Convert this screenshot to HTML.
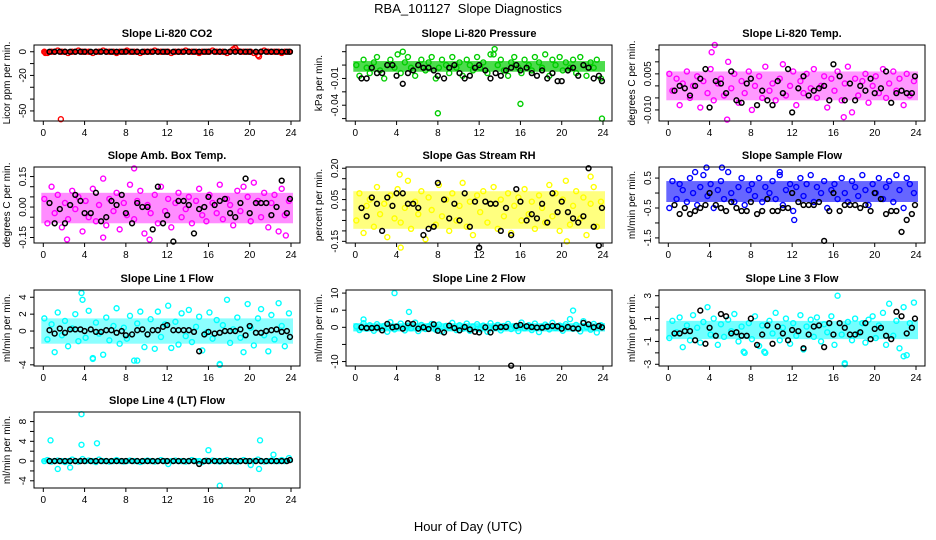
<!DOCTYPE html>
<html><head><meta charset="utf-8"><style>
html,body{margin:0;padding:0;background:#fff;}
svg{display:block;font-family:"Liberation Sans",Arial,sans-serif;}
</style></head><body>
<svg id="chart" width="936" height="540" viewBox="0 0 936 540">
<text x="468" y="13" text-anchor="middle" font-size="13">RBA_101127&#160; Slope Diagnostics</text>
<text x="468" y="531" text-anchor="middle" font-size="13">Hour of Day (UTC)</text>
</svg>
<script>
// shared x categories (hour of day)
const colHours = [0.1,0.4,0.8,1.1,1.4,1.8,2.1,2.4,2.8,3.1,3.4,3.8,4.1,4.4,4.8,5.1,5.4,5.8,6.1,6.4,6.8,7.1,7.4,7.8,
 8.1,8.4,8.8,9.1,9.4,9.8,10.1,10.4,10.8,11.1,11.4,11.8,12.1,12.4,12.8,13.1,13.4,13.8,14.1,14.4,14.8,15.1,15.4,15.8,
 16.1,16.4,16.8,17.1,17.4,17.8,18.1,18.4,18.8,19.1,19.4,19.8,20.1,20.4,20.8,21.1,21.4,21.8,22.1,22.4,22.8,23.1,23.4,23.8];
const blkHours = [0.6,1.1,1.6,2.1,2.6,3.1,3.6,4.0,4.6,5.1,5.6,6.1,6.6,7.1,7.6,8.0,8.6,9.1,9.6,10.1,10.6,11.1,11.6,12.0,
 12.6,13.1,13.6,14.1,14.6,15.1,15.6,16.0,16.6,17.1,17.6,18.1,18.6,19.1,19.6,20.0,20.6,21.1,21.6,22.1,22.6,23.1,23.6,23.9];
const xTicks = [0,4,8,12,16,20,24];

// Panel 1: CO2
const co2Col = [0,-1,0,0,1,0,0,-1,0,0,1,0, 0,0,-1,0,0,1,0,0,0,-1,0,0, 1,0,0,0,-1,0,0,0,1,0,0,0, 0,-1,0,0,0,1,0,0,0,-1,0,0, 0,1,0,0,0,-1,0,2,1,0,0,0, 0,-1,-3,0,1,0,0,0,0,-1,0,0];
const co2Blk = new Array(48).fill(0);
const co2Out = [[1.7,-57],[18.6,3],[20.9,-4],[0.2,-1]];
// Panel 2: Pressure
const presCol = [-0.005,-0.009,-0.003,-0.006,-0.008,-0.004,-0.002,-0.007,-0.010,-0.005,-0.003,-0.006,
 -0.001,-0.008,-0.004,-0.002,-0.006,-0.009,-0.005,-0.003,-0.007,-0.004,-0.002,-0.010,
 -0.006,-0.003,-0.005,-0.008,-0.002,-0.006,-0.004,-0.009,-0.003,-0.005,-0.007,-0.002,
 -0.006,-0.004,-0.008,-0.001,-0.001,-0.005,-0.003,-0.007,-0.009,-0.004,-0.002,-0.006,
 -0.008,-0.003,-0.005,-0.007,-0.002,-0.004,-0.006,-0.001,-0.009,-0.003,-0.005,-0.002,
 -0.007,-0.004,-0.006,-0.003,-0.008,-0.002,-0.005,-0.009,-0.004,-0.006,-0.003,-0.010];
const presBlk = [-0.010,-0.010,-0.006,-0.008,-0.008,-0.005,-0.005,-0.009,-0.012,-0.008,-0.007,-0.005,
 -0.006,-0.006,-0.007,-0.009,-0.010,-0.006,-0.005,-0.008,-0.010,-0.009,-0.006,-0.005,
 -0.007,-0.010,-0.008,-0.009,-0.007,-0.006,-0.005,-0.007,-0.006,-0.008,-0.009,-0.007,
 -0.010,-0.008,-0.011,-0.011,-0.007,-0.006,-0.009,-0.005,-0.006,-0.010,-0.009,-0.011];
const presOut = [[8.0,-0.023],[16.0,-0.0195],[23.9,-0.025],[13.5,0.001],[4.6,0.0]];
// Panel 3: Li-820 Temp
const tempCol = [0.005,-0.002,0.003,-0.008,0.001,0.006,-0.005,0,0.004,-0.009,0.002,-0.003,
 0.007,-0.006,0.001,0.003,-0.004,0.010,-0.001,0.005,-0.007,0.002,-0.003,0.006,
 -0.010,0,0.004,-0.005,0.008,-0.002,0.001,-0.006,0.003,0.009,-0.004,0,
 0.006,-0.008,0.002,-0.003,0.005,-0.001,0.007,-0.005,0,0.004,-0.009,0.003,
 -0.002,0.006,-0.006,0.001,0.008,-0.011,0.003,-0.004,0.002,0.005,-0.007,0,
 0.004,-0.003,0.007,-0.005,0.001,0.006,-0.002,0.003,-0.008,0.005,-0.004,0.002];
const tempBlk = [-0.002,0,-0.001,-0.004,0,0.003,0.007,-0.009,0.002,0.001,-0.003,0.006,
 -0.006,-0.007,0.001,0.003,-0.008,-0.002,-0.006,-0.008,0.002,-0.003,0.007,-0.011,
 -0.001,0.004,-0.004,-0.002,-0.001,0,-0.006,0.009,0.004,-0.006,0.001,-0.006,
 0,-0.002,0.003,-0.003,-0.001,0.006,-0.007,-0.003,-0.002,-0.003,-0.003,0.004];
const tempOut = [[4.5,0.017],[5.7,-0.014],[4.2,0.014],[17.0,-0.013]];
// Panel 4: Amb. Box Temp
const ambCol = [0.04,-0.08,0.10,-0.03,0.06,-0.10,0.02,-0.06,0.08,-0.01,0.05,-0.12,
 0.03,-0.05,0.09,-0.07,0.01,0.14,-0.09,0.04,-0.02,0.07,-0.11,0.02,
 -0.04,0.11,-0.06,0.03,0.08,-0.13,0.01,-0.03,0.06,-0.08,0.10,-0.02,
 0.04,-0.10,0.02,0.07,-0.05,-0.01,0.05,-0.08,0.03,0.09,-0.04,-0.07,
 0.06,0.02,-0.03,0.11,-0.06,0.04,0.01,-0.09,0.08,-0.02,0.10,0.05,
 -0.07,0.12,0.03,-0.05,0.07,-0.10,0.02,0.06,-0.12,0.09,-0.04,0.03];
const ambBlk = [0.02,-0.08,-0.01,-0.08,0.01,0.06,0.03,-0.03,-0.03,0.07,-0.07,-0.05,0.03,0.01,0.06,-0.03,
 -0.08,0.02,0,0.00,-0.11,0.10,-0.08,-0.04,-0.17,0.03,0.03,0.01,-0.13,-0.01,0.00,0.05,0.01,0.03,0.04,-0.03,
 -0.05,0.02,0.14,-0.03,0.02,0.02,0.02,-0.04,0.00,0.13,-0.03,0.04];
const ambOut = [[8.8,0.19],[2.3,-0.16],[5.8,-0.15],[10.3,-0.16],[23.5,-0.14]];
// Panel 5: Gas Stream RH
const rhCol = [-0.05,0.08,-0.11,0.02,0.05,-0.08,0.11,-0.02,0.03,-0.13,0.07,-0.04,
 0.10,-0.06,0.01,0.14,-0.09,0.04,-0.02,0.09,-0.14,0.06,0.00,-0.07,
 0.12,-0.03,0.05,-0.10,0.08,-0.05,0.02,0.13,-0.08,0.04,-0.12,0.07,
 -0.01,0.09,-0.06,0.03,0.11,-0.09,0.05,-0.03,0.08,-0.11,0.02,0.06,
 -0.05,0.10,-0.02,0.04,-0.09,0.07,0.01,-0.06,0.12,-0.03,0.08,-0.10,
 0.05,0.14,-0.07,0.02,0.09,-0.04,0.06,-0.12,0.03,0.11,-0.08,0.04];
const rhBlk = [0.01,-0.03,0.06,0.03,-0.10,0.06,0.02,0.08,0.08,0.03,0.03,0.01,-0.12,-0.09,-0.08,0.13,
 0.05,-0.04,0.03,-0.05,0.08,-0.08,0.04,-0.18,0.04,0.03,0.03,-0.10,0.01,-0.12,0.10,0.04,-0.05,-0.02,-0.04,
 0.03,-0.06,0.08,-0.01,0.04,-0.01,-0.04,-0.06,-0.03,0.20,-0.08,-0.17,0.01];
const rhOut = [[4.4,-0.18],[4.3,0.17],[20.5,-0.15],[22.8,0.16]];
// Panel 6: Sample Flow
const sfCol = [-0.5,0.4,-0.2,0.3,0.1,-0.3,0.5,0.0,-0.4,0.2,0.6,-0.1,
 0.3,-0.5,0.1,0.4,-0.2,0.7,0.0,-0.3,0.2,0.5,-0.4,0.1,
 0.3,-0.1,0.5,-0.3,0.2,0.0,0.4,-0.2,0.6,-0.4,0.1,0.3,
 -0.6,0.2,0.5,-0.1,0.3,0.6,-0.3,0.2,0.0,0.4,-0.5,0.1,
 0.3,-0.2,0.5,0.0,-0.3,0.4,0.2,-0.1,0.6,0.1,-0.4,0.3,
 0.0,0.5,-0.2,0.2,0.4,-0.3,0.6,0.1,-0.5,0.5,0.3,0.0];
const sfBlk = [-0.4,-0.7,-0.5,-0.7,-0.6,-0.5,-0.4,0.0,-0.4,-0.5,-0.6,-0.3,-0.5,-0.6,-0.6,-0.3,-0.7,-0.6,
 -0.2,-0.6,-0.6,-0.5,-0.5,0.0,-0.3,-0.4,-0.4,-0.4,-0.3,-1.6,-0.6,0.0,-0.6,-0.4,-0.4,-0.4,-0.5,-0.4,
 -0.6,0.0,-0.2,-0.7,-0.6,-0.6,-1.3,-0.9,-0.7,-0.4];
const sfOut = [[3.7,0.85],[5.2,0.85],[10.8,0.7],[12.2,-0.9],[2.6,0.7]];
// Panel 7: Line 1 Flow
const l1Col = [1.5,-1.0,0.8,-2.5,2.2,-0.5,1.2,-1.8,0.3,2.0,-1.2,3.7,
 -0.8,2.4,-3.2,1.0,-0.3,-2.8,1.6,-1.1,0.6,2.7,-1.5,0.4,
 -0.9,1.8,-3.5,0.9,2.3,-1.9,-0.4,1.4,-2.1,2.3,-0.7,0.8,
 3.0,-2.0,1.1,-1.6,2.1,-0.6,2.5,-1.3,0.5,1.7,-2.3,-0.2,
 2.2,-0.9,1.3,-3.9,0.7,3.7,-1.4,0.2,1.6,-0.8,-2.5,3.2,
 0.4,-1.7,1.5,2.6,-0.5,-2.4,1.9,-1.0,3.3,0.6,-1.8,2.1];
const l1Blk = [0.1,-0.3,0.3,-0.2,0.2,0.2,0.2,0.0,0.2,-0.1,-0.1,0.1,0.1,-0.2,0.0,-0.5,-0.4,0.1,0.2,-0.4,
 0.1,0.1,0.5,0.7,0.1,0.1,0.1,0.1,-0.1,-2.4,-0.4,-0.1,-0.3,-0.2,0.0,0.0,0.0,0.2,-0.5,0.6,-0.2,-0.2,0.0,
 0.1,0.2,-0.1,0.0,-0.7];
const l1Out = [[3.7,4.5],[4.8,-3.3],[9.1,-3.5],[17.1,-4.0]];
// Panel 8: Line 2 Flow
const l2Col = [0.3,-0.8,1.2,-0.4,0.6,-1.0,0.9,-0.2,0.4,-1.3,1.5,-0.6,
 0.2,1.1,-0.9,0.5,-0.3,1.4,-1.1,0.7,-0.5,0.3,1.0,-0.7,
 0.8,-1.2,0.4,-0.1,1.3,-0.8,0.6,-0.4,1.1,-1.0,0.2,0.9,
 -0.6,0.5,-1.3,1.2,-0.2,0.7,-0.9,0.4,1.0,-0.5,0.3,-1.1,
 1.4,-0.3,0.6,-0.8,1.1,-1.4,0.2,0.8,-0.6,1.3,-0.2,0.5,
 -1.0,0.9,2.4,-0.4,0.7,-1.2,1.8,0.1,-0.7,1.0,-1.5,0.6];
const l2Blk = [0.0,-0.2,-0.2,-0.1,-0.9,1.0,0.0,0.2,-0.4,1.2,1.0,-0.4,0.0,-0.5,0.9,-1.0,-1.5,0.5,
 -0.2,-0.9,0.1,-0.6,-1.3,-1.5,0.0,-1.5,-0.1,0.1,0.1,-11.2,0.4,0.7,0.3,0.1,-0.1,-0.1,0.2,0.4,
 0.3,-0.4,0.1,-0.3,-0.4,1.3,0.9,0.0,0.4,0.0];
const l2Out = [[3.8,10],[5.2,4.5],[21.1,4.9],[0.8,2.3]];
// Panel 9: Line 3 Flow
const l3Col = [-0.7,0.8,-0.2,1.1,-1.5,0.4,-0.9,1.3,0.2,-1.1,0.7,2.0,
 -0.4,1.0,-1.3,0.5,-0.6,0.9,-0.1,1.4,-1.0,0.3,-2.0,0.6,
 -0.8,1.2,-1.4,0.4,-2.0,0.8,-0.3,1.5,-0.9,0.2,1.0,-1.2,
 0.6,-0.5,1.3,-1.7,0.3,0.9,-0.6,1.1,-1.0,0.5,-0.2,1.2,
 -1.3,3.0,-0.4,-3.0,0.7,-0.9,1.0,-0.3,0.6,-1.1,0.9,1.2,
 -0.7,0.4,1.5,-1.3,2.3,-0.5,0.8,-1.6,2.0,-2.2,0.6,2.4];
const l3Blk = [-0.3,-0.3,-0.1,-0.1,-0.9,1.7,-1.2,0.2,-0.5,1.4,1.2,-0.3,-0.2,-0.5,-0.5,1.0,-1.3,-0.4,
 0.4,-1.2,0.3,-0.3,-0.9,0.0,-0.1,-1.6,-0.4,0.3,0.4,-1.5,0.6,-0.4,0.6,0.2,-0.4,-0.4,-0.2,0.6,-0.8,0.1,
 0.2,-0.5,-0.8,1.6,1.2,-0.3,0.2,1.0];
const l3Out = [[17.1,-2.9],[7.3,-1.9],[9.3,-1.9],[22.8,-2.3]];
// Panel 10: Line 4 (LT) Flow
const l4Col = [0,0.2,-0.1,0,0.1,0,-0.2,0,0.3,0,-0.1,0.4,
 0,0.1,0,-0.2,0.3,0,0,-0.1,0,0.2,0,-0.1,
 0,0.1,0,0,-0.2,0,0.1,0,-0.1,0,0.2,0,
 -0.6,0,0.1,0,0,-0.1,0,0.2,0,0,-0.2,0.1,
 0,0.1,0,-0.1,0,0.2,0,0,-0.1,0,0.2,0,
 -0.8,0,0.3,0,-0.1,0,0.1,0,0,0.2,0,0.6];
const l4Blk = [0,0,0,0,0,0,0,0,0,0,0,0,0,0,0,0,0,0,0,0,0,0,0,0,0,0,0,0,0,-0.6,0,0,0,0,0,0,0,0,0,0,0,0,0,0,0,0,0,0.2];
const l4Out = [[0.7,4.2],[3.7,9.5],[3.7,3.3],[5.2,3.6],[1.4,-1.6],[2.6,-1.3],[16.0,2.2],[17.1,-5.0],[21.0,4.2],[20.9,-1.6],[22.3,1.3]];

const panels = [
 {name:"co2",title:"Slope Li-820 CO2",ylab:"Licor ppm per min.",col:0,row:0,color:"#ff0000",ylim:[-58.5,5.7],yt:[0,-10,-20,-30,-40,-50],yl:["0","","-20","","","-50"],band:[-1.5,1.5],bo:0.8,c:co2Col,b:co2Blk,o:co2Out},
 {name:"pressure",title:"Slope Li-820 Pressure",ylab:"kPa per min.",col:1,row:0,color:"#00cd00",ylim:[-0.0259,0.0025],yt:[0,-0.005,-0.01,-0.015,-0.02,-0.025],yl:["","","-0.01","","-0.04",""],band:[-0.0075,-0.0035],bo:0.7,c:presCol,b:presBlk,o:presOut},
 {name:"li820-temp",title:"Slope Li-820 Temp.",ylab:"degrees C per min.",col:2,row:0,color:"#ff00ff",ylim:[-0.0146,0.017],yt:[0.015,0.01,0.005,0,-0.005,-0.01],yl:["","","0.005","","","-0.010"],band:[-0.006,0.006],bo:0.4,c:tempCol,b:tempBlk,o:tempOut},
 {name:"amb-box-temp",title:"Slope Amb. Box Temp.",ylab:"degrees C per min.",col:0,row:1,color:"#ff00ff",ylim:[-0.177,0.197],yt:[0.15,0.1,0.05,0,-0.05,-0.1,-0.15],yl:["0.15","","","0.00","","","-0.15"],band:[-0.08,0.07],bo:0.45,c:ambCol,b:ambBlk,o:ambOut},
 {name:"gas-stream-rh",title:"Slope Gas Stream RH",ylab:"percent per min.",col:1,row:1,color:"#ffff00",ylim:[-0.158,0.206],yt:[0.2,0.15,0.1,0.05,0,-0.05,-0.1,-0.15],yl:["0.20","","","0.05","","","","-0.15"],band:[-0.09,0.09],bo:0.5,c:rhCol,b:rhBlk,o:rhOut},
 {name:"sample-flow",title:"Slope Sample Flow",ylab:"ml/min per min.",col:2,row:1,color:"#0000ff",ylim:[-1.67,0.87],yt:[0.5,0,-0.5,-1,-1.5],yl:["0.5","","-0.5","","-1.5"],band:[-0.3,0.4],bo:0.6,c:sfCol,b:sfBlk,o:sfOut},
 {name:"line1-flow",title:"Slope Line 1 Flow",ylab:"ml/min per min.",col:0,row:2,color:"#00ffff",ylim:[-4.14,4.86],yt:[4,2,0,-2,-4],yl:["4","2","0","","-4"],band:[-1.5,1.5],bo:0.45,c:l1Col,b:l1Blk,o:l1Out},
 {name:"line2-flow",title:"Slope Line 2 Flow",ylab:"ml/min per min.",col:1,row:2,color:"#00ffff",ylim:[-11.3,10.9],yt:[10,5,0,-5,-10],yl:["10","5","0","","-10"],band:[-1.2,1.2],bo:0.75,c:l2Col,b:l2Blk,o:l2Out},
 {name:"line3-flow",title:"Slope Line 3 Flow",ylab:"ml/min per min.",col:2,row:2,color:"#00ffff",ylim:[-3.15,3.5],yt:[3,2,1,0,-1,-2,-3],yl:["3","","1","","-1","","-3"],band:[-0.8,0.8],bo:0.55,c:l3Col,b:l3Blk,o:l3Out},
 {name:"line4-flow",title:"Slope Line 4 (LT) Flow",ylab:"ml/min per min.",col:0,row:3,color:"#00ffff",ylim:[-5.46,9.94],yt:[8,6,4,2,0,-2,-4],yl:["8","","4","","0","","-4"],band:[-0.3,0.3],bo:0.8,c:l4Col,b:l4Blk,o:l4Out}
];

const NS = "http://www.w3.org/2000/svg";
const svg = document.getElementById("chart");
const colX = [34,346,659], rowY = [45,167,290,412], W = 266, H = 76;
function mk(tag, attrs, parent){const e=document.createElementNS(NS,tag);for(const k in attrs)e.setAttribute(k,attrs[k]);parent.appendChild(e);return e;}

panels.forEach(p => {
  const x0 = colX[p.col], y0 = rowY[p.row];
  const xs = h => x0 + 9.3 + h/24*247.7;
  const ys = v => y0 + H - (v - p.ylim[0])/(p.ylim[1]-p.ylim[0])*H;
  const g = mk("g",{},svg);
  
  
  const t = mk("text",{x:x0+W/2,y:y0-8,"text-anchor":"middle","font-size":"11","font-weight":"bold"},g);
  t.textContent = p.title;
  
  
  const yl = mk("text",{transform:`translate(${x0-24},${y0+H/2}) rotate(-90)`,"text-anchor":"middle","font-size":"10"},g);
  yl.textContent = p.ylab;
  
  
  xTicks.forEach(v => {
    mk("line",{x1:xs(v),x2:xs(v),y1:y0+H,y2:y0+H+4,stroke:"#000","stroke-width":"1"},g);
    const lt = mk("text",{x:xs(v),y:y0+H+15,"text-anchor":"middle","font-size":"10"},g);
    lt.textContent = v;
    
    
  });
  p.yt.forEach((v,i) => {
    mk("line",{x1:x0-4,x2:x0,y1:ys(v),y2:ys(v),stroke:"#000","stroke-width":"1"},g);
    if (p.yl[i]) {
      const lt = mk("text",{transform:`translate(${x0-8},${ys(v)}) rotate(-90)`,"text-anchor":"middle","font-size":"10"},g);
      lt.textContent = p.yl[i];
      
      
    }
  });
  const band = mk("rect",{x:xs(0)-2,y:ys(p.band[1]),width:xs(24)-xs(0)+4,height:ys(p.band[0])-ys(p.band[1]),fill:p.color,"fill-opacity":p.bo},g);
  
  
  const n = Math.min(p.c.length, colHours.length);
  for (let i=0;i<n;i++){
    const c = mk("circle",{cx:xs(colHours[i]),cy:ys(p.c[i]),r:"2.5",fill:"none",stroke:p.color,"stroke-width":"1.4"},g);
    
    
  }
  p.o.forEach(d => {
    const c = mk("circle",{cx:xs(d[0]),cy:ys(d[1]),r:"2.5",fill:"none",stroke:p.color,"stroke-width":"1.4"},g);
    
    
  });
  const m = Math.min(p.b.length, blkHours.length);
  for (let i=0;i<m;i++){
    const c = mk("circle",{cx:xs(blkHours[i]),cy:ys(p.b[i]),r:"2.4",fill:"none",stroke:"#000","stroke-width":"1.5"},g);
    
    
  }
  const box = mk("rect",{x:x0,y:y0,width:W,height:H,fill:"none",stroke:"#000","stroke-width":"1"},g);
  
  
});
</script>
</body></html>
